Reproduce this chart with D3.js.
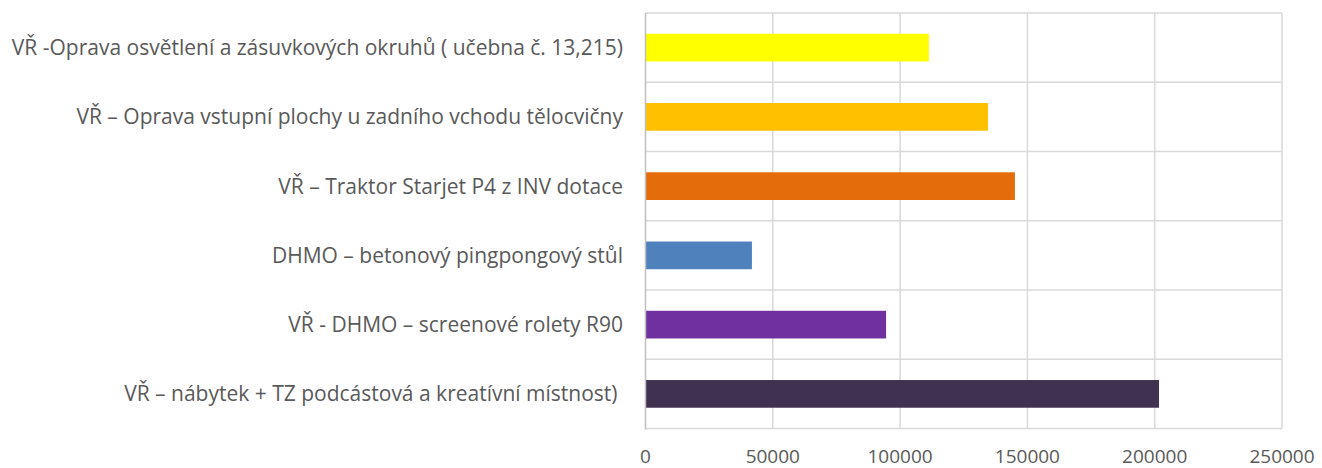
<!DOCTYPE html>
<html lang="cs">
<head>
<meta charset="UTF-8">
<title>Bar chart</title>
<script src="https://d3js.org/d3.v7.min.js"></script>
<style>
  body { margin: 0; background: #fff; }
  text { font-family: "Open Sans", Lato, sans-serif; fill: #595959; }
</style>
</head>
<body>
<script>
// data, top to bottom
const labels = [
  "VŘ -Oprava osvětlení a zásuvkových okruhů ( učebna č. 13,215)",
  "VŘ – Oprava vstupní plochy u zadního vchodu tělocvičny",
  "VŘ – Traktor Starjet P4 z INV dotace",
  "DHMO – betonový pingpongový stůl",
  "VŘ - DHMO – screenové rolety R90",
  "VŘ – nábytek + TZ podcástová a kreatívní místnost)\u00a0"
];
const values = [111300, 134500, 145100, 41800, 94500, 201700];
const colors = ["#FFFF00", "#FFC000", "#E46C0A", "#4F81BD", "#7030A0", "#403151"];
const ticks = [0, 50000, 100000, 150000, 200000, 250000];

const w = 1322, h = 468;
const plotLeft = 645.5, plotRight = 1282, plotTop = 13, plotBottom = 428.5;

const svg = d3.select("body").append("svg")
  .attr("width", w)
  .attr("height", h);

const x = d3.scaleLinear().domain([0, 250000]).range([plotLeft, plotRight]);
const y = d3.scaleBand().domain(labels).range([plotTop, plotBottom])
  .paddingInner(0.6).paddingOuter(0.3);

// vertical gridlines
svg.append("g")
  .selectAll("line")
  .data(ticks.slice(1))
  .enter().append("line")
  .attr("x1", d => x(d)).attr("x2", d => x(d))
  .attr("y1", plotTop).attr("y2", plotBottom)
  .attr("stroke", "#d9d9d9").attr("stroke-width", 1.5);

// horizontal lines between categories
const bounds = d3.range(labels.length + 1).map(i => plotTop + i * y.step());
svg.append("g")
  .selectAll("line")
  .data(bounds)
  .enter().append("line")
  .attr("x1", plotLeft).attr("x2", plotRight)
  .attr("y1", d => d).attr("y2", d => d)
  .attr("stroke", "#d9d9d9").attr("stroke-width", 1.5);

// bars
svg.selectAll("rect.bar")
  .data(labels)
  .enter().append("rect")
  .attr("class", "bar")
  .attr("x", x(0))
  .attr("y", d => y(d))
  .attr("width", (d, i) => x(values[i]) - x(0))
  .attr("height", y.bandwidth())
  .attr("fill", (d, i) => colors[i]);

// left axis line
svg.append("line")
  .attr("x1", plotLeft).attr("x2", plotLeft)
  .attr("y1", plotTop).attr("y2", plotBottom + 1)
  .attr("stroke", "#bfbfbf").attr("stroke-width", 1.5);

// category labels
svg.append("g")
  .selectAll("text")
  .data(labels)
  .enter().append("text")
  .attr("x", 623)
  .attr("y", d => y(d) + y.bandwidth() / 2)
  .attr("dy", "0.36em")
  .attr("text-anchor", "end")
  .style("font-size", "21px")
  .text(d => d);

// x tick labels
svg.append("g")
  .selectAll("text")
  .data(ticks)
  .enter().append("text")
  .attr("x", d => x(d))
  .attr("y", 462.5)
  .attr("text-anchor", "middle")
  .style("font-size", "19px")
  .text(d => d);
</script>
</body>
</html>
